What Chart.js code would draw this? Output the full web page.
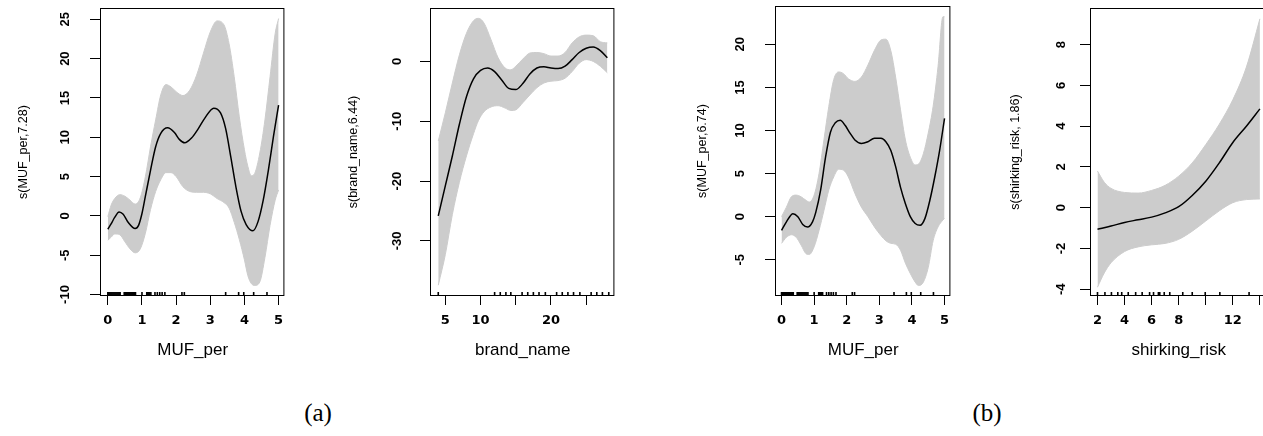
<!DOCTYPE html>
<html>
<head>
<meta charset="utf-8">
<title>GAM smooth terms</title>
<script src="https://cdn.jsdelivr.net/npm/chart.js@4.4.1/dist/chart.umd.min.js"></script>
<style>
  html, body { margin: 0; padding: 0; background: #fff; overflow: hidden; }
  body { width: 1263px; height: 436px; position: relative; }
  canvas { position: absolute; top: 0; }
  .tag { position: absolute; font-family: "Liberation Serif", "Times New Roman", serif; font-size: 25px; color: #000; transform: translate(-50%, -50%); }
</style>
</head>
<body>
<canvas id="p1" width="290" height="372" style="left:0px"></canvas>
<canvas id="p2" width="290" height="372" style="left:330px"></canvas>
<canvas id="p3" width="281" height="372" style="left:675px"></canvas>
<canvas id="p4" width="282" height="372" style="left:990px"></canvas>
<div class="tag" style="left:318px; top:413px">(a)</div>
<div class="tag" style="left:987px; top:413px">(b)</div>
<script>
// ---- (a) left: s(MUF_per,7.28)
const mufA_fitX = [0, 0.1, 0.2, 0.33, 0.45, 0.6, 0.8, 0.9, 1.0, 1.1, 1.25, 1.4, 1.55, 1.75, 1.95, 2.1, 2.25, 2.45, 2.65, 2.85, 3.1, 3.3, 3.45, 3.6, 3.75, 3.9, 4.05, 4.25, 4.4, 4.55, 4.7, 4.85, 5.0];
const mufA_fit = [-1.7, -1.0, -0.2, 0.5, 0.2, -0.85, -1.6, -1.2, 0.3, 2.5, 5.8, 8.8, 10.5, 11.2, 10.6, 9.7, 9.3, 9.9, 11.1, 12.5, 13.7, 13.1, 11.1, 7.5, 3.7, 0.6, -1.1, -1.9, -0.7, 2.0, 5.8, 10.1, 14.1];
const mufA_bandX = [0, 0.1, 0.2, 0.35, 0.5, 0.65, 0.8, 0.95, 1.1, 1.25, 1.4, 1.55, 1.7, 1.85, 2.0, 2.2, 2.4, 2.6, 2.8, 3.0, 3.2, 3.4, 3.55, 3.7, 3.85, 4.0, 4.1, 4.2, 4.3, 4.45, 4.6, 4.75, 4.9, 5.0];
const mufA_upper = [-0.1, 1.4, 2.2, 2.7, 2.5, 2.0, 1.5, 2.3, 5.0, 8.8, 12.2, 15.4, 16.7, 16.4, 15.8, 15.3, 16.0, 17.9, 20.7, 23.4, 24.8, 24.3, 21.9, 17.7, 12.6, 8.4, 6.3, 5.1, 5.4, 8.0, 12.2, 17.7, 23.2, 25.1];
const mufA_lower = [-3.1, -2.7, -2.3, -2.4, -3.3, -4.2, -4.7, -4.2, -2.2, 0.8, 3.1, 4.6, 5.5, 5.5, 5.0, 3.7, 3.1, 3.0, 3.0, 2.8, 2.2, 1.7, 1.0, -0.8, -3.0, -5.6, -7.6, -8.6, -8.85, -8.4, -5.3, -1.2, 2.0, 3.3];

// ---- (a) right: s(brand_name,6.44)
const brand_fitX = [4, 5, 6, 7, 8, 9, 10, 11, 12, 13, 14, 15, 16, 17, 18, 19, 20, 21, 22, 23, 24, 25, 26, 27, 28];
const brand_fit = [-25.8, -20.8, -15.8, -10.5, -5.9, -2.9, -1.5, -1.1, -1.7, -3.1, -4.5, -4.7, -3.7, -2.1, -1.1, -0.9, -1.1, -1.2, -0.8, 0.3, 1.5, 2.2, 2.4, 1.8, 0.6];
const brand_bandX = [4, 5, 6, 7, 8, 9, 9.7, 10.5, 11.5, 12.5, 13.5, 14.3, 15, 16, 17, 18, 19, 20, 21, 22, 23, 24, 25, 26, 27, 28];
const brand_upper = [-13.3, -8.6, -3.6, 1.1, 4.7, 6.8, 7.2, 6.4, 3.6, 0.6, -1.1, -1.4, -0.8, 0.4, 1.4, 1.5, 1.3, 0.9, 0.9, 1.5, 3.1, 4.1, 4.4, 4.3, 3.3, 3.1];
const brand_lower = [-37.4, -32.3, -25.6, -20.2, -15.8, -12.1, -9.9, -8.4, -7.6, -7.4, -7.8, -8.2, -8.1, -6.9, -5.6, -4.4, -3.6, -3.3, -3.2, -2.8, -1.7, -0.3, 0.3, 0.0, -0.8, -1.9];

// ---- (b) left: s(MUF_per,6.74)
const mufB_fitX = [0, 0.15, 0.35, 0.5, 0.65, 0.8, 0.95, 1.05, 1.2, 1.35, 1.5, 1.65, 1.8, 1.95, 2.1, 2.25, 2.45, 2.65, 2.85, 3.05, 3.2, 3.35, 3.5, 3.65, 3.8, 3.95, 4.1, 4.25, 4.4, 4.55, 4.7, 4.85, 5.0];
const mufB_fit = [-1.6, -0.6, 0.35, 0.0, -0.9, -1.2, -0.6, 0.5, 3.1, 6.9, 9.8, 10.9, 11.2, 10.6, 9.7, 8.9, 8.5, 8.7, 9.1, 9.1, 8.7, 7.7, 5.8, 3.4, 1.5, 0.0, -0.8, -1.0, -0.2, 1.9, 4.6, 7.7, 11.4];
const mufB_bandX = [0, 0.15, 0.3, 0.45, 0.6, 0.75, 0.85, 1.0, 1.15, 1.3, 1.45, 1.6, 1.75, 1.9, 2.05, 2.25, 2.45, 2.65, 2.85, 3.05, 3.2, 3.35, 3.5, 3.65, 3.8, 3.95, 4.1, 4.2, 4.35, 4.5, 4.65, 4.8, 4.95, 5.0];
const mufB_upper = [0.0, 1.1, 2.3, 2.5, 2.3, 1.9, 1.7, 2.5, 5.0, 8.9, 12.8, 15.9, 16.8, 16.6, 16.0, 15.7, 16.2, 17.6, 19.3, 20.5, 20.6, 19.3, 16.2, 12.4, 8.9, 6.9, 6.0, 6.1, 7.3, 9.7, 12.8, 17.4, 23.2, 23.2];
const mufB_lower = [-3.1, -2.4, -2.1, -2.4, -3.3, -4.3, -4.4, -3.5, -1.6, 0.7, 3.1, 4.6, 5.5, 5.4, 4.6, 2.7, 1.1, 0.0, -1.2, -2.2, -2.8, -3.1, -3.2, -3.9, -5.4, -6.6, -7.6, -8.0, -7.6, -5.9, -2.8, -1.2, -0.4, -0.2];

// ---- (b) right: s(shirking_risk,1.86)
const shirk_fitX = [2, 3, 4, 5, 6, 7, 8, 9, 10, 11, 12, 13, 14];
const shirk_fit = [-1.05, -0.9, -0.72, -0.59, -0.46, -0.25, 0.05, 0.6, 1.3, 2.2, 3.2, 4.0, 4.85];
const shirk_bandX = [2, 2.5, 3, 4, 5, 6, 7, 8, 9, 10, 11, 12, 13, 14];
const shirk_upper = [1.8, 1.25, 0.95, 0.75, 0.72, 0.85, 1.1, 1.55, 2.2, 3.1, 4.1, 5.3, 6.9, 9.27];
const shirk_lower = [-3.9, -3.2, -2.7, -2.15, -1.92, -1.82, -1.75, -1.55, -1.15, -0.65, -0.15, 0.25, 0.4, 0.43];

// rugs (observed x values along the bottom)
const mufRug = [0, 0.03, 0.06, 0.09, 0.12, 0.15, 0.18, 0.21, 0.24, 0.27, 0.3, 0.33, 0.36, 0.48, 0.51, 0.54, 0.57, 0.6, 0.63, 0.66, 0.69, 0.72, 0.75, 0.78, 0.81,
  1.0, 1.14, 1.17, 1.2, 1.23, 1.26, 1.38, 1.45, 1.52, 1.59, 1.67, 2.17, 2.24, 3.45, 3.83, 3.98, 4.27, 4.66];
const brandRug = [4, 12.0, 12.8, 13.6, 14.3, 15.9, 16.7, 17.5, 18.3, 19.2, 20.8, 21.6, 22.4, 23.2, 24.1, 25.7, 26.5, 27.3, 28.2];
const shirkRug = [2, 2.55, 3.03, 3.5, 3.79, 4.27, 4.82, 5.3, 5.85, 6.14, 6.5, 6.6, 6.93, 7.34, 8.3, 9.0, 9.96, 11.04, 13.2];

// axis ticks
const mufTicksX = [0, 1, 2, 3, 4, 5];
const mufTickLabelsX = ['0', '1', '2', '3', '4', '5'];
const brandTicksX = [5, 10, 15, 20, 25];
const brandTickLabelsX = ['5', '10', '', '20', ''];
const shirkTicksX = [2, 4, 6, 8, 10, 12, 14];
const shirkTickLabelsX = ['2', '4', '6', '8', '', '12', ''];
const mufA_ticksY = [-10, -5, 0, 5, 10, 15, 20, 25];
const brand_ticksY = [-30, -20, -10, 0];
const mufB_ticksY = [-5, 0, 5, 10, 15, 20];
const shirk_ticksY = [-4, -2, 0, 2, 4, 6, 8];

const BAND = 'rgb(204,204,204)';
const SANS = '"Liberation Sans", Arial, sans-serif';
const CANVAS_H = 372;
const BOX_BOTTOM = 296;
const Y_AXIS_W = 101;
const Y_TICK_FONT = {family: SANS, size: 13, weight: 'bold'};

function pts(xs, ys) {
    return xs.map((x, i) => ({x: x, y: ys[i]}));
}

function widestLabel(labels, font) {
    const ctx = document.createElement('canvas').getContext('2d');
    ctx.font = font.weight + ' ' + font.size + 'px ' + font.family;
    return Math.max(...labels.map(s => ctx.measureText(s).width));
}

const boxPlugin = {
    id: 'box',
    afterDatasetsDraw(chart) {
        const {ctx, chartArea: a} = chart;
        ctx.save();
        ctx.strokeStyle = '#000';
        ctx.lineWidth = 1;
        ctx.strokeRect(a.left - 0.5, a.top + 0.5, a.right - a.left, a.bottom - a.top - 1);
        ctx.restore();
    }
};

function createPanel(id, p) {
    const ctx = document.getElementById(id);
    if (!ctx) return;
    const yLabels = p.yTicks.map(String);
    const yPad = p.labelDist - 11 - widestLabel(yLabels, Y_TICK_FONT) / 2;
    new Chart(ctx, {
        type: 'line',
        data: {
            datasets: [{
                label: 'fit',
                data: pts(p.fitX, p.fit),
                borderColor: '#000',
                borderWidth: 1.5,
                pointRadius: 0,
                cubicInterpolationMode: 'monotone',
                fill: false
            }, {
                label: 'rug',
                data: p.rug.map(v => ({x: v, y: p.yMin})),
                showLine: false,
                pointStyle: 'line',
                rotation: 90,
                pointRadius: 4,
                pointBorderColor: '#000',
                pointBorderWidth: 1.6,
                clip: 0
            }, {
                label: 'upper',
                data: pts(p.bandX, p.upper),
                borderColor: BAND,
                borderWidth: 1,
                backgroundColor: BAND,
                pointRadius: 0,
                cubicInterpolationMode: 'monotone',
                fill: '+1'
            }, {
                label: 'lower',
                data: pts(p.bandX, p.lower),
                borderColor: BAND,
                borderWidth: 1,
                pointRadius: 0,
                cubicInterpolationMode: 'monotone',
                fill: false
            }]
        },
        options: {
            responsive: false,
            devicePixelRatio: 1,
            animation: false,
            events: [],
            layout: { padding: { top: p.top, right: 1, bottom: 0, left: 0 } },
            plugins: { legend: { display: false }, tooltip: { enabled: false } },
            scales: {
                x: {
                    type: 'linear',
                    min: p.xMin,
                    max: p.xMax,
                    afterBuildTicks: axis => { axis.ticks = p.xTicks.map(v => ({value: v})); },
                    afterFit: axis => { axis.height = CANVAS_H - BOX_BOTTOM; axis.paddingLeft = 0; axis.paddingRight = 0; },
                    grid: { display: true, drawOnChartArea: false, drawTicks: true, tickLength: 9, color: '#000', lineWidth: 1 },
                    border: { display: false },
                    ticks: {
                        autoSkip: false,
                        maxRotation: 0,
                        padding: 8,
                        color: '#000',
                        font: { family: '"DejaVu Sans", sans-serif', size: 13, weight: 'bold' },
                        callback: (value, index) => p.xLabels[index]
                    },
                    title: {
                        display: true,
                        text: p.xTitle,
                        color: '#000',
                        font: { family: SANS, size: 17 },
                        padding: { top: 0, bottom: 11.8 }
                    }
                },
                y: {
                    type: 'linear',
                    min: p.yMin,
                    max: p.yMax,
                    afterBuildTicks: axis => { axis.ticks = p.yTicks.map(v => ({value: v})); },
                    afterFit: axis => { axis.width = Y_AXIS_W; axis.paddingTop = 0; axis.paddingBottom = 0; },
                    grid: { display: true, drawOnChartArea: false, drawTicks: true, tickLength: 11, color: '#000', lineWidth: 1 },
                    border: { display: false },
                    ticks: {
                        autoSkip: false,
                        minRotation: 90,
                        maxRotation: 90,
                        crossAlign: 'center',
                        padding: yPad,
                        color: '#000',
                        font: Y_TICK_FONT,
                        callback: value => String(value)
                    },
                    title: {
                        display: true,
                        text: p.yTitle,
                        color: '#000',
                        font: { family: SANS, size: 12.5 },
                        padding: { top: p.titleOffset - 7.5, bottom: 0 }
                    }
                }
            }
        },
        plugins: [boxPlugin]
    });
}

createPanel('p1', {
    top: 8, xMin: -0.2, xMax: 5.17, yMin: -10.19, yMax: 26.44,
    xTicks: mufTicksX, xLabels: mufTickLabelsX, yTicks: mufA_ticksY,
    fitX: mufA_fitX, fit: mufA_fit, bandX: mufA_bandX, upper: mufA_upper, lower: mufA_lower, rug: mufRug,
    xTitle: 'MUF_per', yTitle: 's(MUF_per,7.28)', labelDist: 36, titleOffset: 24
});
createPanel('p2', {
    top: 8, xMin: 2.97, xMax: 29.0, yMin: -39.2, yMax: 8.93,
    xTicks: brandTicksX, xLabels: brandTickLabelsX, yTicks: brand_ticksY,
    fitX: brand_fitX, fit: brand_fit, bandX: brand_bandX, upper: brand_upper, lower: brand_lower, rug: brandRug,
    xTitle: 'brand_name', yTitle: 's(brand_name,6.44)', labelDist: 34, titleOffset: 24
});
createPanel('p3', {
    top: 6, xMin: -0.17, xMax: 5.18, yMin: -9.21, yMax: 24.45,
    xTicks: mufTicksX, xLabels: mufTickLabelsX, yTicks: mufB_ticksY,
    fitX: mufB_fitX, fit: mufB_fit, bandX: mufB_bandX, upper: mufB_upper, lower: mufB_lower, rug: mufRug,
    xTitle: 'MUF_per', yTitle: 's(MUF_per,6.74)', labelDist: 36, titleOffset: 28
});
createPanel('p4', {
    top: 8, xMin: 1.52, xMax: 14.48, yMin: -4.33, yMax: 9.8,
    xTicks: shirkTicksX, xLabels: shirkTickLabelsX, yTicks: shirk_ticksY,
    fitX: shirk_fitX, fit: shirk_fit, bandX: shirk_bandX, upper: shirk_upper, lower: shirk_lower, rug: shirkRug,
    xTitle: 'shirking_risk', yTitle: 's(shirking_risk, 1.86)', labelDist: 30, titleOffset: 26
});
</script>
</body>
</html>
